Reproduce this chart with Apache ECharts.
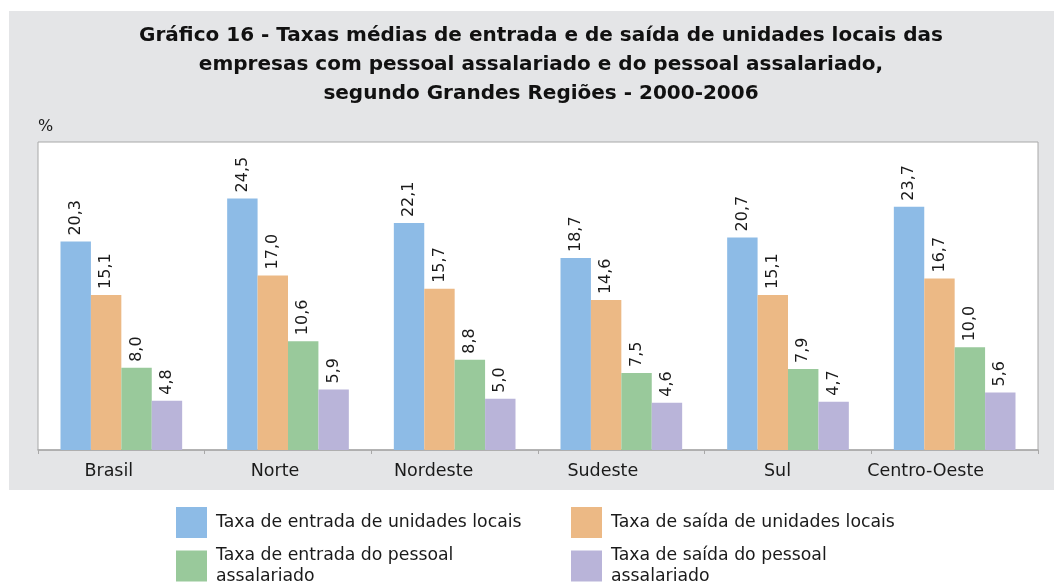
<!DOCTYPE html>
<html>
<head>
<meta charset="utf-8">
<script src="https://cdn.jsdelivr.net/npm/echarts@6/dist/echarts.min.js"></script>
<style>
  html, body { margin: 0; padding: 0; background: #fff; }
  #chart { width: 1054px; height: 583px; }
</style>
</head>
<body>
<div id="chart"></div>
<script>
const regioes = ["Brasil", "Norte", "Nordeste", "Sudeste", "Sul", "Centro-Oeste"];
const entradaUnidades = [20.3, 24.5, 22.1, 18.7, 20.7, 23.7];
const saidaUnidades = [15.1, 17.0, 15.7, 14.6, 15.1, 16.7];
const entradaPessoal = [8.0, 10.6, 8.8, 7.5, 7.9, 10.0];
const saidaPessoal = [4.8, 5.9, 5.0, 4.6, 4.7, 5.6];
const nomes = [
  "Taxa de entrada de unidades locais",
  "Taxa de saída de unidades locais",
  "Taxa de entrada do pessoal\nassalariado",
  "Taxa de saída do pessoal\nassalariado"
];
const cores = ["#8dbbe6", "#ecb985", "#99c99b", "#b9b4d9"];
// in the original the region names sit a bit left of the bar groups
const recuoRotulo = [25, 26, 42, 37, 21, 58];

const fonte = "'DejaVu Sans', sans-serif";
const chart = echarts.init(document.getElementById("chart"));

const serie = (i, data) => ({
  name: nomes[i],
  type: "bar",
  data: data,
  barGap: "0%",
  barCategoryGap: "27%",
  itemStyle: { color: cores[i] },
  label: {
    show: true,
    position: "top",
    rotate: 90,
    align: "left",
    verticalAlign: "middle",
    distance: 6,
    fontFamily: fonte,
    fontSize: 16,
    color: "#1a1a1a",
    formatter: (p) => p.value.toFixed(1).replace(".", ",")
  }
});

const legenda = (i, left, top) => ({
  data: [nomes[i]],
  left: left,
  top: top,
  icon: "rect",
  itemWidth: 31,
  itemHeight: 31,
  itemGap: 0,
  selectedMode: false,
  textStyle: { fontFamily: fonte, fontSize: 17.3, color: "#1a1a1a", lineHeight: 21, padding: [0, 0, 0, 4] }
});

const rich = {};
recuoRotulo.forEach((r, i) => { rich["r" + i] = { padding: [0, r, 0, 0] }; });

chart.setOption({
  animation: false,
  graphic: [
    { type: "rect", shape: { x: 9, y: 11, width: 1045, height: 479 }, style: { fill: "#e4e5e7" }, z: -10 },
    { type: "text", left: 38, top: 119, style: { text: "%", font: "16px " + fonte, fill: "#1a1a1a" } }
  ],
  title: {
    text: "Gráfico 16 - Taxas médias de entrada e de saída de unidades locais das\nempresas com pessoal assalariado e do pessoal assalariado,\nsegundo Grandes Regiões - 2000-2006",
    left: 536,
    top: 16,
    textAlign: "center",
    textStyle: { fontFamily: fonte, fontSize: 20, fontWeight: "bold", color: "#111", lineHeight: 29 }
  },
  legend: [
    legenda(0, 171, 502),
    legenda(1, 566, 502),
    legenda(2, 171, 540),
    legenda(3, 566, 540)
  ],
  grid: {
    left: 38, top: 142, right: 16, bottom: 133,
    show: true,
    backgroundColor: "#ffffff",
    borderColor: "#a8a8a8",
    borderWidth: 1
  },
  xAxis: {
    type: "category",
    data: regioes,
    axisLine: { lineStyle: { color: "#a8a8a8", width: 1.5 } },
    axisTick: { show: true, interval: 0, length: 4, lineStyle: { color: "#a8a8a8" } },
    axisLabel: {
      interval: 0,
      hideOverlap: false,
      fontFamily: fonte, fontSize: 17.5, color: "#1a1a1a", margin: 12,
      formatter: (v, idx) => "{r" + idx + "|" + v + "}",
      rich: rich
    }
  },
  yAxis: {
    type: "value",
    min: 0,
    max: 30,
    show: false,
    splitLine: { show: false }
  },
  series: [
    serie(0, entradaUnidades),
    serie(1, saidaUnidades),
    serie(2, entradaPessoal),
    serie(3, saidaPessoal)
  ]
});
</script>
</body>
</html>
